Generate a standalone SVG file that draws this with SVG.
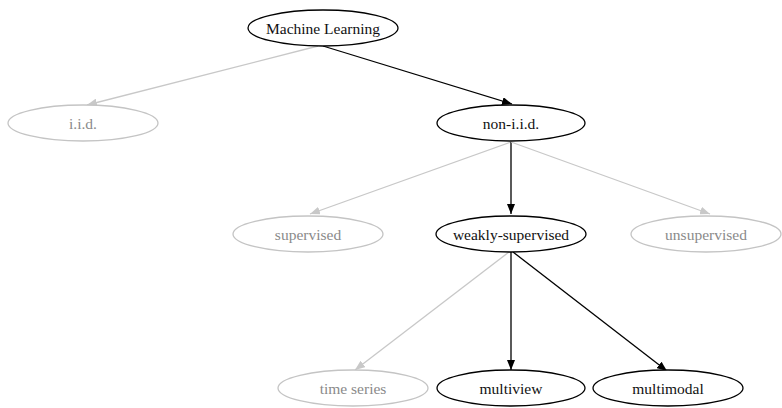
<svg xmlns="http://www.w3.org/2000/svg" width="782" height="408" viewBox="0 0 782 408">
  <defs>
    <marker id="arrow-dark" markerWidth="10" markerHeight="8" refX="10" refY="4" orient="auto" markerUnits="userSpaceOnUse">
      <path d="M0,0 L10,4 L0,8 Z" fill="#000"/>
    </marker>
    <marker id="arrow-light" markerWidth="10" markerHeight="8" refX="10" refY="4" orient="auto" markerUnits="userSpaceOnUse">
      <path d="M0,0 L10,4 L0,8 Z" fill="#c8c8c8"/>
    </marker>
  </defs>
  <style>
    .node ellipse { fill: #fff; stroke-width: 1.3; }
    .on ellipse { stroke: #000; }
    .off ellipse { stroke: #c4c4c4; }
    .node text { font-family: "Liberation Serif", "DejaVu Serif", serif; font-size: 15.5px; text-anchor: middle; dominant-baseline: central; }
    .on text { fill: #111; }
    .off text { fill: #8a8a8a; }
    .edge { fill: none; stroke-width: 1.3; }
    .edge.on { stroke: #000; marker-end: url(#arrow-dark); }
    .edge.off { stroke: #c8c8c8; marker-end: url(#arrow-light); }
  </style>
  <rect width="782" height="408" fill="#fff"/>

  <g id="edges">
    <path class="edge off" d="M318,46 L87,105"/>
    <path class="edge on" d="M323,46 L512,104"/>
    <path class="edge off" d="M511,142 L310,214"/>
    <path class="edge on" d="M511,142 L511,214"/>
    <path class="edge off" d="M511,142 L710,214"/>
    <path class="edge off" d="M509,252 L355,370"/>
    <path class="edge on" d="M511,252 L511,370"/>
    <path class="edge on" d="M513,252 L667,371"/>
  </g>

  <g id="node-ml" class="node on">
    <ellipse cx="323" cy="28" rx="75" ry="18"/>
    <text x="323" y="28">Machine Learning</text>
  </g>
  <g id="node-iid" class="node off">
    <ellipse cx="83" cy="123" rx="75" ry="18"/>
    <text x="83" y="123">i.i.d.</text>
  </g>
  <g id="node-noniid" class="node on">
    <ellipse cx="511" cy="123" rx="74" ry="18"/>
    <text x="511" y="123">non-i.i.d.</text>
  </g>
  <g id="node-supervised" class="node off">
    <ellipse cx="308" cy="234" rx="75" ry="18"/>
    <text x="308" y="234">supervised</text>
  </g>
  <g id="node-weakly" class="node on">
    <ellipse cx="511" cy="234" rx="75" ry="18"/>
    <text x="511" y="234">weakly-supervised</text>
  </g>
  <g id="node-unsupervised" class="node off">
    <ellipse cx="706" cy="234" rx="75" ry="18"/>
    <text x="706" y="234">unsupervised</text>
  </g>
  <g id="node-timeseries" class="node off">
    <ellipse cx="353" cy="388" rx="75" ry="18"/>
    <text x="353" y="388">time series</text>
  </g>
  <g id="node-multiview" class="node on">
    <ellipse cx="511" cy="388" rx="74" ry="18"/>
    <text x="511" y="388">multiview</text>
  </g>
  <g id="node-multimodal" class="node on">
    <ellipse cx="668" cy="388" rx="75" ry="18"/>
    <text x="668" y="388">multimodal</text>
  </g>
</svg>
